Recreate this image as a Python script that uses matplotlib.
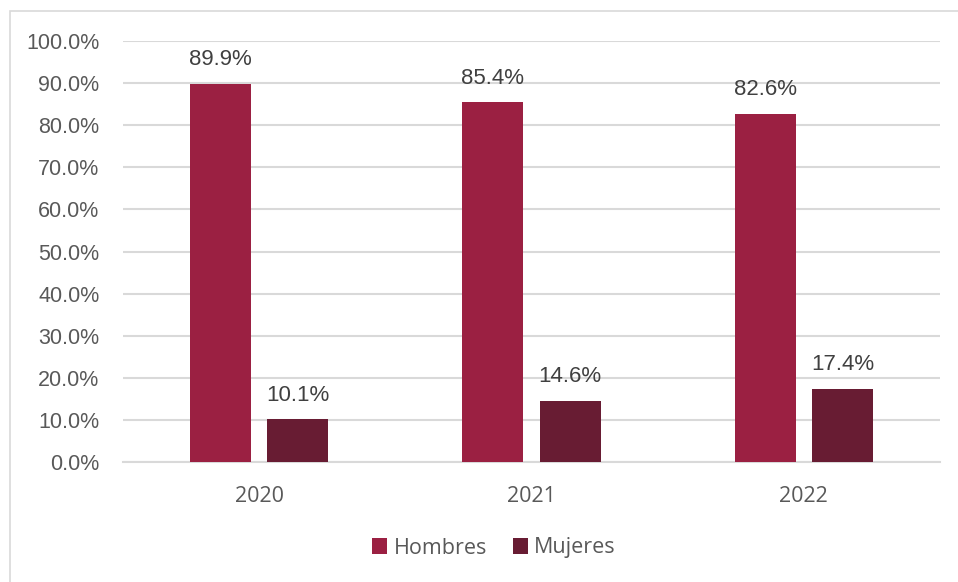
import numpy as np
import matplotlib.pyplot as plt
from matplotlib.patches import Rectangle

years = ["2020", "2021", "2022"]
hombres = [89.9, 85.4, 82.6]
mujeres = [10.1, 14.6, 17.4]
yticks = [0, 10, 20, 30, 40, 50, 60, 70, 80, 90, 100]

c_h = "#9B2042"
c_m = "#681C33"
grid_c = "#D9D9D9"

fig = plt.figure(figsize=(9.58, 5.82), dpi=100)
ax = fig.add_axes([123 / 958, 1 - 462 / 582, 817 / 958, 421 / 582])

# outer chart border (only top and left visible in the crop)
fig.add_artist(Rectangle((9.5 / 958, -0.05), 1.1, 1 - 11 / 582 + 0.05,
                         transform=fig.transFigure, fill=False,
                         edgecolor=grid_c, lw=1.2))

x = np.arange(len(years))
w = 0.224
off = 0.142
ax.bar(x - off, hombres, w, color=c_h, label="Hombres", zorder=3)
ax.bar(x + off, mujeres, w, color=c_m, label="Mujeres", zorder=3)

for xi, v in zip(x - off, hombres):
    ax.annotate(f"{v:.1f}%", (xi, v), xytext=(0, 10), textcoords="offset points",
                ha="center", va="bottom", fontsize=16, color="#404040",
                family="Liberation Sans")
for xi, v in zip(x + off, mujeres):
    ax.annotate(f"{v:.1f}%", (xi, v), xytext=(0, 10), textcoords="offset points",
                ha="center", va="bottom", fontsize=16, color="#404040",
                family="Liberation Sans")

ax.set_xlim(-0.5, 2.5)
ax.set_ylim(0, 100)
ax.set_yticks(yticks)
ax.set_yticklabels([f"{t:.1f}%" for t in yticks], family="Liberation Sans",
                   fontsize=15.5, color="#595959")
ax.set_xticks(x)
ax.set_xticklabels(years, family="Open Sans", fontsize=15.5, color="#595959")
ax.tick_params(axis="both", length=0)
ax.tick_params(axis="y", pad=17)
ax.tick_params(axis="x", pad=17)
ax.grid(axis="y", color=grid_c, lw=1.5, zorder=0)
for s in ["top", "right", "left"]:
    ax.spines[s].set_visible(False)
ax.spines["bottom"].set_color(grid_c)
ax.spines["bottom"].set_linewidth(1.5)

leg = fig.legend(loc="center", bbox_to_anchor=(494 / 958, 1 - 548 / 582), ncol=2,
                 frameon=False, handlelength=0.7, handleheight=0.7,
                 handletextpad=0.3, columnspacing=1.2,
                 prop={"family": "Open Sans", "size": 15.5})
for t in leg.get_texts():
    t.set_color("#595959")

fig.savefig("out.png", dpi=100)
